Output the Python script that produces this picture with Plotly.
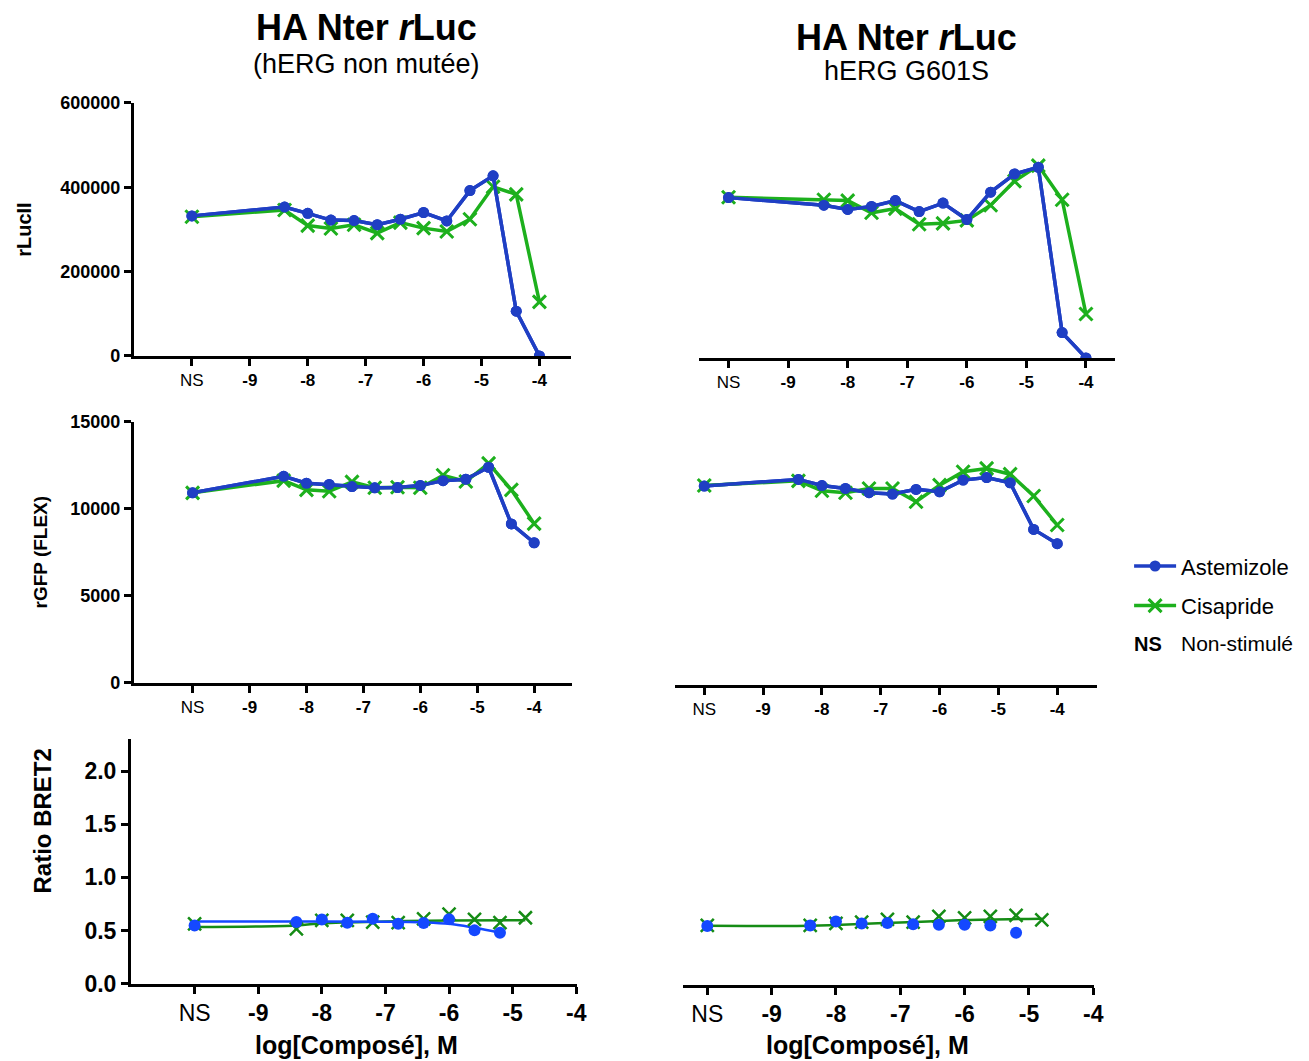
import plotly.graph_objects as go

# ---------------- data ----------------
x_conc = [-10, -8.4, -8, -7.6, -7.2, -6.8, -6.4, -6, -5.6, -5.2, -4.8, -4.4, -4]
x_bret = [-10, -8.4, -8, -7.6, -7.2, -6.8, -6.4, -6, -5.6, -5.2, -4.8]
x_bret_blue = [-10, -8.4, -8, -7.6, -7.2, -6.8, -6.4, -6, -5.6, -5.2]

tick_vals = [-10, -9, -8, -7, -6, -5, -4]
tick_text = ["NS", "<b>-9</b>", "<b>-8</b>", "<b>-7</b>", "<b>-6</b>", "<b>-5</b>", "<b>-4</b>"]

# rLucII - hERG non mutée
rluc_wt_astemizole = [332000, 353000, 338000, 322000, 321000, 311000, 324000, 340000, 320000, 392000, 427000, 106000, 0]
rluc_wt_cisapride = [330000, 346000, 309000, 302000, 311000, 291000, 316000, 303000, 295000, 324000, 401000, 383000, 128000]
# rLucII - hERG G601S
rluc_mut_astemizole = [380000, 362000, 352000, 359000, 373000, 347000, 367000, 328000, 393000, 436000, 452000, 60000, 0]
rluc_mut_cisapride = [381000, 375000, 373000, 344000, 354000, 317000, 319000, 326000, 362000, 419000, 456000, 375000, 104000]

# rGFP (FLEX)
gfp_wt_astemizole = [10910, 11860, 11460, 11390, 11270, 11200, 11210, 11330, 11610, 11690, 12380, 9120, 8040]
gfp_wt_cisapride = [10910, 11610, 11080, 11000, 11540, 11200, 11230, 11200, 11920, 11560, 12600, 11080, 9140]
gfp_mut_astemizole = [11370, 11750, 11400, 11230, 10990, 10910, 11180, 11040, 11710, 11860, 11560, 8890, 8070]
gfp_mut_cisapride = [11400, 11670, 11100, 10990, 11230, 11230, 10470, 11420, 12190, 12380, 12050, 10800, 9140]

# Ratio BRET2 (points)
bret_wt_astemizole = [0.548, 0.579, 0.604, 0.573, 0.610, 0.563, 0.570, 0.607, 0.501, 0.479]
bret_wt_cisapride = [0.563, 0.516, 0.595, 0.595, 0.579, 0.573, 0.610, 0.654, 0.604, 0.573, 0.620]
bret_mut_astemizole = [0.551, 0.557, 0.595, 0.576, 0.579, 0.567, 0.563, 0.563, 0.557, 0.488]
bret_mut_cisapride = [0.557, 0.557, 0.576, 0.588, 0.613, 0.588, 0.642, 0.629, 0.642, 0.651, 0.610]

# Ratio BRET2 fitted curves
fit_wt_astemizole_x = [-10, -8, -7, -6.4, -6, -5.6, -5.2]
fit_wt_astemizole_y = [0.585, 0.585, 0.583, 0.577, 0.563, 0.525, 0.479]
fit_wt_cisapride_x = [-10, -8.4, -8, -7, -6, -4.8]
fit_wt_cisapride_y = [0.533, 0.548, 0.568, 0.585, 0.594, 0.596]
fit_mut_cisapride_x = [-10, -8.4, -8, -7, -6, -4.8]
fit_mut_cisapride_y = [0.553, 0.555, 0.562, 0.585, 0.607, 0.62]

# ---------------- styles ----------------
BLUE_TOP = "#1f3fc4"
GREEN_TOP = "#1db01d"
BLUE_BOT = "#1448ff"
GREEN_BOT = "#158c15"
FONT = "Liberation Sans, Arial, sans-serif"

W, H = 1309, 1061


def px_x(p):
    return ((p + 2.5) / 0.997) / W


def px_y(p):
    return 1 - ((p - 7.8) / 0.982) / H


fig = go.Figure()


def line_pair(xs, ya, yc, xa, yax, show):
    fig.add_trace(go.Scatter(
        x=xs, y=ya, mode="lines+markers", name="Astemizole",
        line=dict(color=BLUE_TOP, width=3.5),
        marker=dict(symbol="circle", size=11, color=BLUE_TOP),
        xaxis=xa, yaxis=yax, showlegend=show, legendgroup="a"))
    fig.add_trace(go.Scatter(
        x=xs, y=yc, mode="lines+markers", name="Cisapride",
        line=dict(color=GREEN_TOP, width=3.5),
        marker=dict(symbol="x-thin", size=13, color=GREEN_TOP,
                    line=dict(color=GREEN_TOP, width=3)),
        xaxis=xa, yaxis=yax, showlegend=show, legendgroup="c"))
    # redraw blue on top
    fig.add_trace(go.Scatter(
        x=xs, y=ya, mode="lines+markers",
        line=dict(color=BLUE_TOP, width=3.5),
        marker=dict(symbol="circle", size=11, color=BLUE_TOP),
        xaxis=xa, yaxis=yax, showlegend=False))


line_pair(x_conc, rluc_wt_astemizole, rluc_wt_cisapride, "x", "y", True)
line_pair(x_conc, rluc_mut_astemizole, rluc_mut_cisapride, "x2", "y2", False)
line_pair(x_conc, gfp_wt_astemizole, gfp_wt_cisapride, "x3", "y3", False)
line_pair(x_conc, gfp_mut_astemizole, gfp_mut_cisapride, "x4", "y4", False)

# BRET2 panels
fig.add_trace(go.Scatter(x=fit_wt_cisapride_x, y=fit_wt_cisapride_y, mode="lines",
                         line=dict(color=GREEN_BOT, width=2.5, shape="spline"),
                         xaxis="x5", yaxis="y5", showlegend=False))
fig.add_trace(go.Scatter(x=fit_wt_astemizole_x, y=fit_wt_astemizole_y, mode="lines",
                         line=dict(color=BLUE_BOT, width=2.5, shape="spline"),
                         xaxis="x5", yaxis="y5", showlegend=False))
fig.add_trace(go.Scatter(x=x_bret, y=bret_wt_cisapride, mode="markers",
                         marker=dict(symbol="x-thin", size=13, color=GREEN_BOT,
                                     line=dict(color=GREEN_BOT, width=2.5)),
                         xaxis="x5", yaxis="y5", showlegend=False))
fig.add_trace(go.Scatter(x=x_bret_blue, y=bret_wt_astemizole, mode="markers",
                         marker=dict(symbol="circle", size=12, color=BLUE_BOT),
                         xaxis="x5", yaxis="y5", showlegend=False))

fig.add_trace(go.Scatter(x=fit_mut_cisapride_x, y=fit_mut_cisapride_y, mode="lines",
                         line=dict(color=GREEN_BOT, width=2.5, shape="spline"),
                         xaxis="x6", yaxis="y6", showlegend=False))
fig.add_trace(go.Scatter(x=x_bret, y=bret_mut_cisapride, mode="markers",
                         marker=dict(symbol="x-thin", size=13, color=GREEN_BOT,
                                     line=dict(color=GREEN_BOT, width=2.5)),
                         xaxis="x6", yaxis="y6", showlegend=False))
fig.add_trace(go.Scatter(x=x_bret_blue, y=bret_mut_astemizole, mode="markers",
                         marker=dict(symbol="circle", size=12, color=BLUE_BOT),
                         xaxis="x6", yaxis="y6", showlegend=False))

# ---------------- axes ----------------
def xax(dom, rng, anchor, size):
    return dict(domain=dom, range=rng, anchor=anchor, tickmode="array",
                tickvals=tick_vals, ticktext=tick_text, showgrid=False, zeroline=False,
                showline=True, linecolor="black", linewidth=3, ticks="outside",
                ticklen=7, tickwidth=3, tickcolor="black",
                tickfont=dict(family=FONT, size=size, color="black"))


def yax(dom, rng, anchor, size, tvals, visible=True, fmt="d"):
    d = dict(domain=dom, range=rng, anchor=anchor, showgrid=False, zeroline=False,
             tickfont=dict(family=FONT, size=size, color="black", weight="bold"))
    if visible:
        d.update(showline=True, linecolor="black", linewidth=3, ticks="outside",
                 ticklen=7, tickwidth=3, tickcolor="black", tickmode="array",
                 tickvals=tvals, tickformat=fmt)
    else:
        d.update(showline=False, showticklabels=False, ticks="")
    return d


fig.update_layout(
    xaxis=xax([px_x(132), px_x(571)], [-11.0, -3.45], "y", 17),
    yaxis=yax([px_y(355), px_y(101)], [0, 600000], "x", 18, [0, 200000, 400000, 600000]),
    xaxis2=xax([px_x(699), px_x(1117)], [-10.5, -3.51], "y2", 17),
    yaxis2=yax([px_y(357), px_y(103)], [0, 600000], "x2", 18, [], visible=False),
    xaxis3=xax([px_x(132), px_x(572)], [-11.03, -3.33], "y3", 17),
    yaxis3=yax([px_y(683), px_y(421)], [0, 15000], "x3", 18, [0, 5000, 10000, 15000]),
    xaxis4=xax([px_x(675), px_x(1099)], [-10.5, -3.32], "y4", 17),
    yaxis4=yax([px_y(685), px_y(422)], [0, 15000], "x4", 18, [], visible=False),
    xaxis5=xax([px_x(129), px_x(577)], [-11.0, -3.985], "y5", 23),
    yaxis5=yax([px_y(985), px_y(740)], [0, 2.3], "x5", 23, [0, 0.5, 1.0, 1.5, 2.0], fmt=".1f"),
    xaxis6=xax([px_x(683), px_x(1096)], [-10.38, -3.985], "y6", 23),
    yaxis6=yax([px_y(986), px_y(741)], [0, 2.3], "x6", 23, [], visible=False),
)

ann = []


def text(x, y, t, size, bold=False, angle=0, xanchor="center", yanchor="middle"):
    if bold:
        t = "<b>" + t + "</b>"
    ann.append(dict(x=px_x(x), y=px_y(y), xref="paper", yref="paper", text=t,
                    showarrow=False, textangle=angle, xanchor=xanchor, yanchor=yanchor,
                    font=dict(family=FONT, size=size, color="black")))


text(365, 25, "HA Nter <i>r</i>Luc", 36, bold=True)
text(365, 62, "(hERG non mutée)", 27)
text(908, 35, "HA Nter <i>r</i>Luc", 36, bold=True)
text(908, 69, "hERG G601S", 27)
text(22, 228, "rLucII", 20, bold=True, angle=-90)
text(38, 552, "rGFP (FLEX)", 19, bold=True, angle=-90)
text(40, 822, "Ratio BRET2", 24, bold=True, angle=-90)
text(355, 1047, "log[Composé], M", 25, bold=True)
text(868, 1047, "log[Composé], M", 25, bold=True)
text(1134, 644, "NS", 20, bold=True, xanchor="left")
text(1181, 644, "Non-stimulé", 21, xanchor="left")

fig.update_layout(
    annotations=ann,
    width=W, height=H,
    margin=dict(l=0, r=0, t=0, b=0),
    paper_bgcolor="white", plot_bgcolor="white",
    showlegend=True,
    legend=dict(x=px_x(1131), y=px_y(545), xanchor="left", yanchor="top",
                font=dict(family=FONT, size=22, color="black"), itemwidth=42,
                tracegroupgap=8, bgcolor="rgba(0,0,0,0)"),
)

fig.write_html("out.html")
